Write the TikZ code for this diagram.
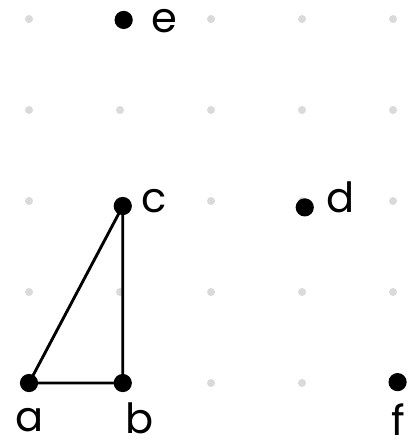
\documentclass[tikz,border=0pt]{standalone}
\usepackage{fontspec}
\setmainfont{Poppins}
\usepackage{tikz}
\usetikzlibrary{shapes,arrows,positioning,calc}
\definecolor{gridgray}{HTML}{DADADA}
\tikzset{
  pt/.style={circle, fill=black, inner sep=0pt, minimum size=0.2cm},
  lbl/.style={anchor=base, font=\fontsize{13}{15}\selectfont},
  edge/.style={line width=0.9pt}
}

\begin{document}
\begin{tikzpicture}
                    \useasboundingbox (-0.319,-0.692) rectangle (4.264,4.209);
                    \foreach \x in {0,...,4}
                        \foreach \y in {0,...,4}
                            \fill[gridgray] (\x,\y) circle (0.044);
                    \node[pt] (a) at (0,0) {};
                    \node[pt] (b) at (1.03,0) {};
                    \node[pt] (c) at (1.03,1.945) {};
                    \node[pt] (d) at (3.03,1.93) {};
                    \node[pt] (e) at (1.04,3.99) {};
                    \node[pt] (f) at (4.05,0.01) {};
                    \draw[edge] (a.center) -- (b.center) -- (c.center) -- cycle;
                    \node[lbl] (la) at (0.01,-0.53) {a};
                    \node[lbl] (lb) at (1.22,-0.55) {b};
                    \node[lbl] (lc) at (1.38,1.87) {c};
                    \node[lbl] (ld) at (3.42,1.87) {d};
                    \node[lbl] (le) at (1.49,3.85) {e};
                    \node[lbl] (lf) at (4.06,-0.58) {f};
                \end{tikzpicture}
\end{document}
